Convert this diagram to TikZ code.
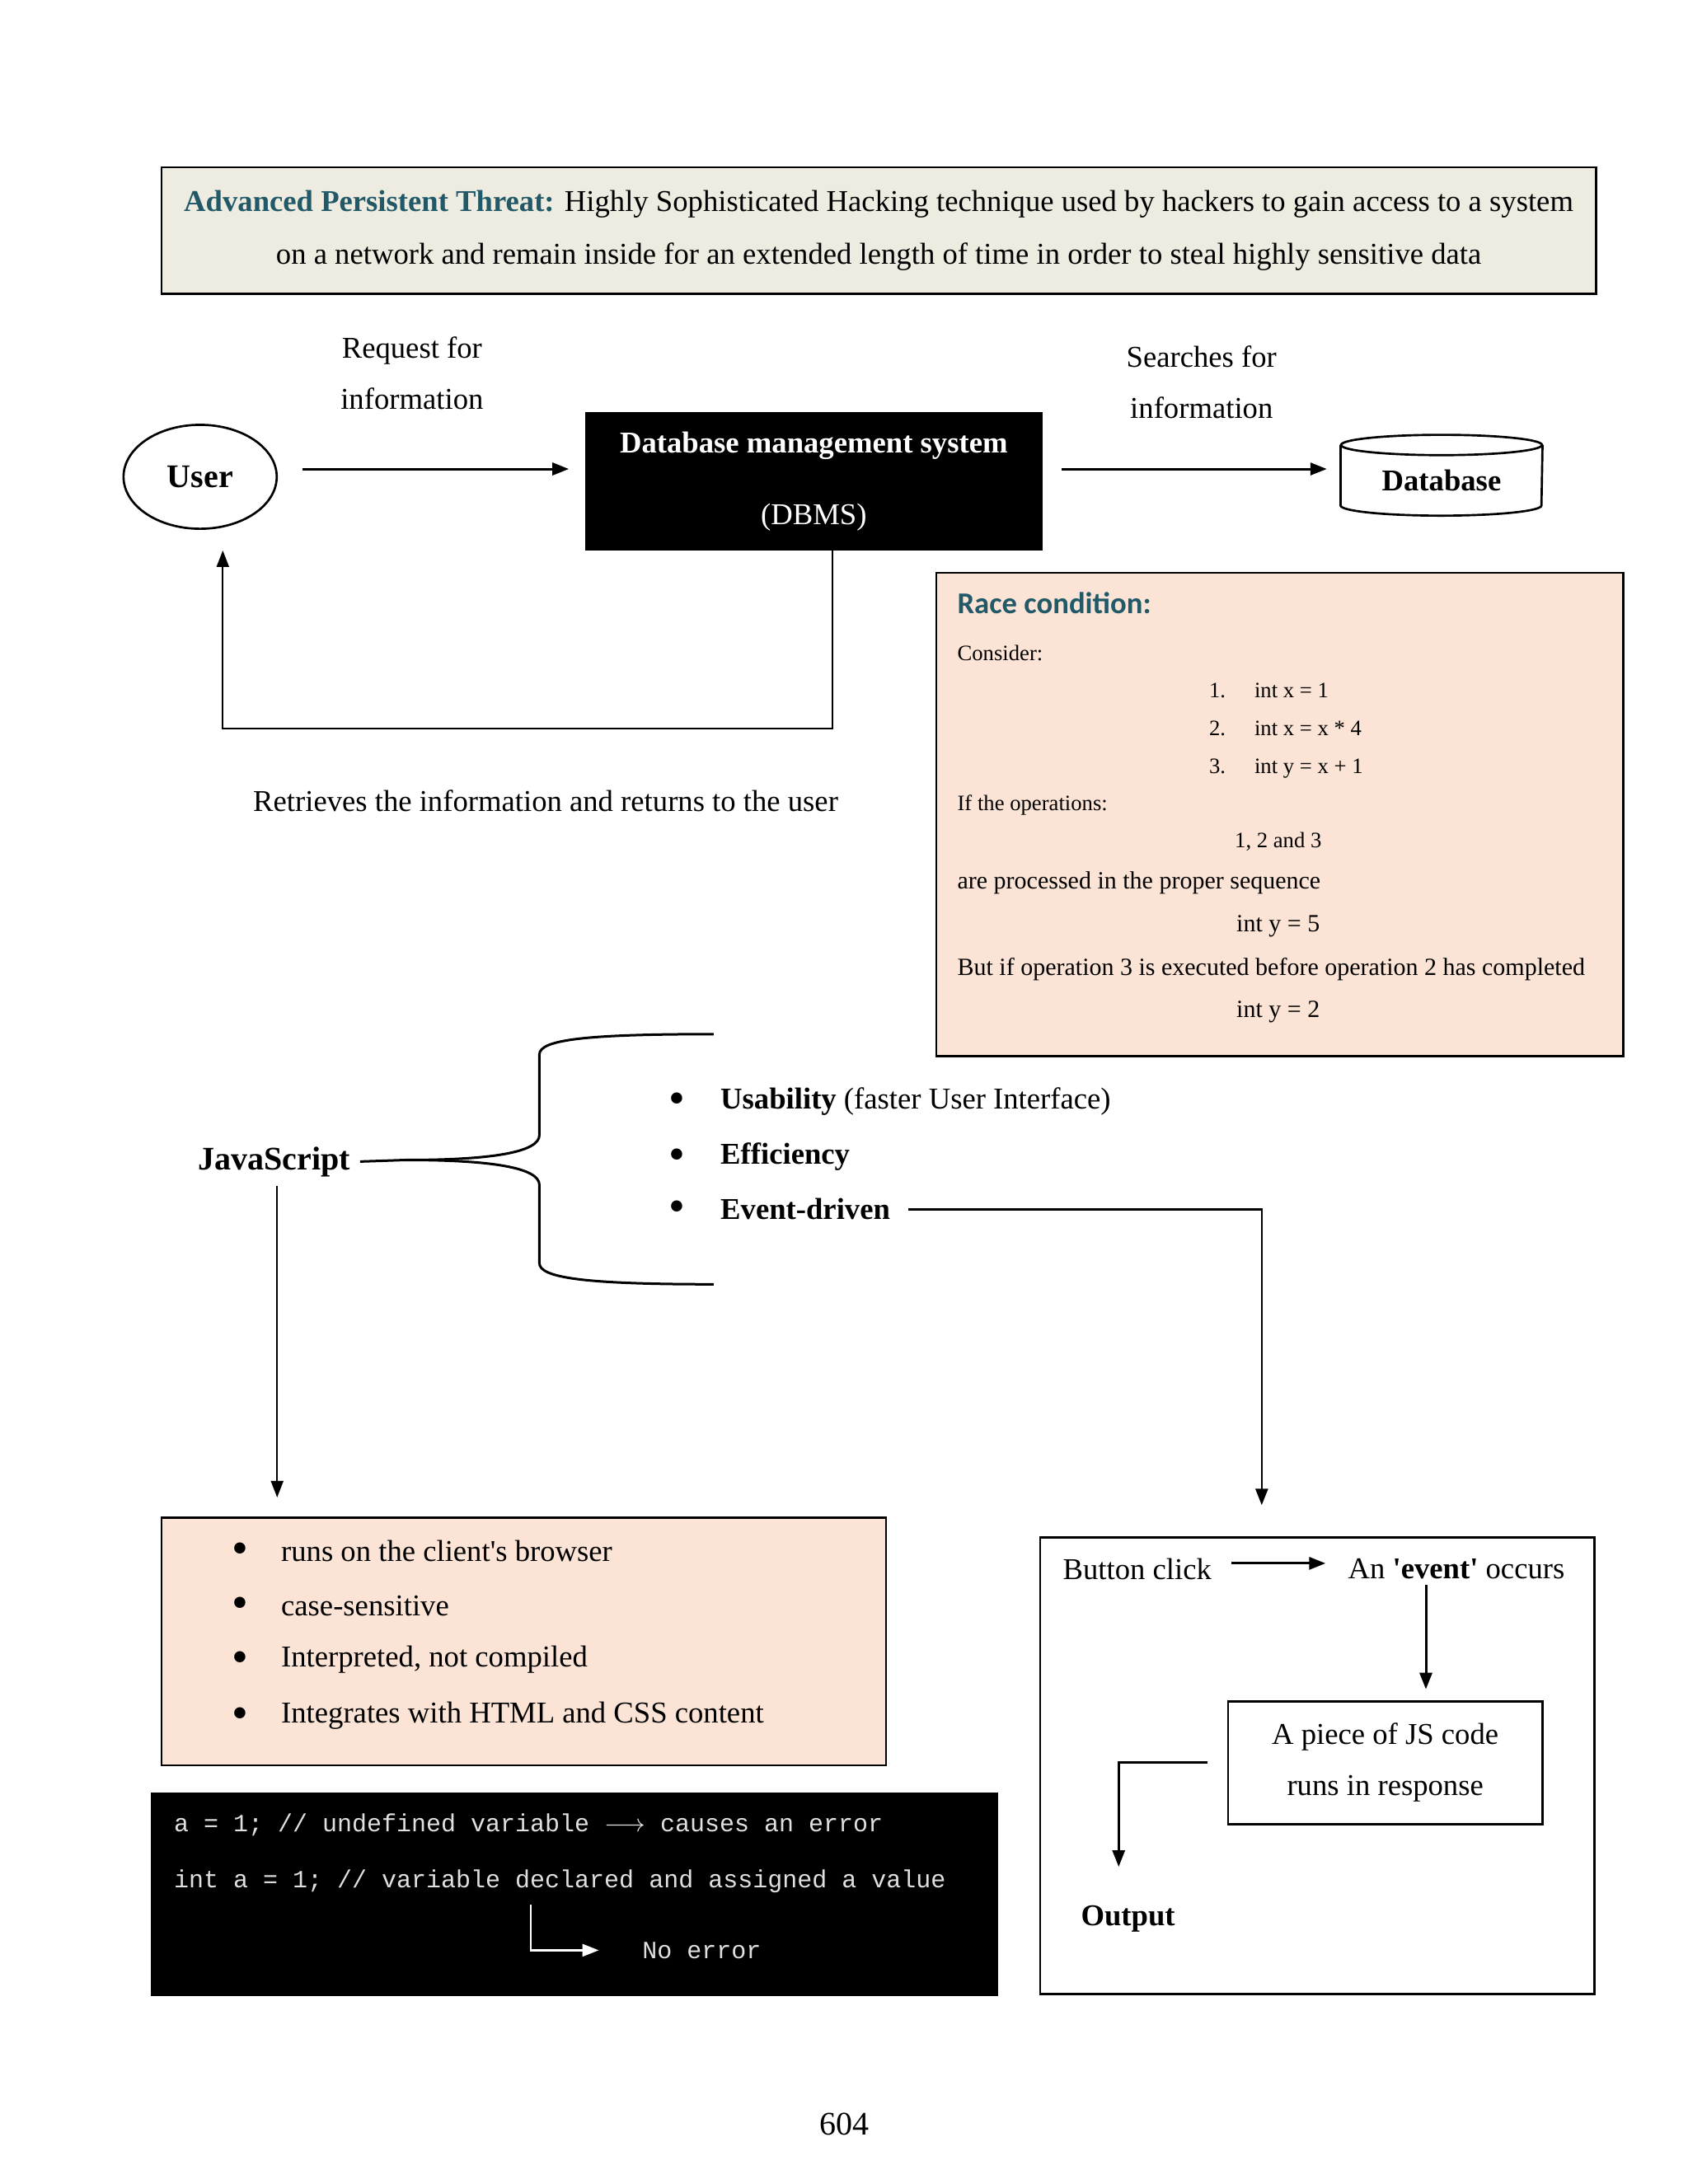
\documentclass[tikz,border=0pt]{standalone}
\usepackage{fontspec}
\setmainfont{Liberation Serif}
\setmonofont{Liberation Mono}
\newfontfamily\calibrifont{Carlito}
\usepackage{tikz}
\usetikzlibrary{arrows.meta, positioning, shapes.geometric}
\usepackage{xcolor}
\definecolor{headteal}{HTML}{215968}
\definecolor{aptfill}{HTML}{EEECE1}
\definecolor{peach}{HTML}{FBE4D5}

\begin{document}
\begin{tikzpicture}[
  every node/.style={font=\fontsize{11}{13}\selectfont},
  lbl/.style={inner sep=0pt},
  small/.style={lbl, font=\fontsize{8}{10}\selectfont},
  mid/.style={lbl, font=\fontsize{9}{11}\selectfont},
  bigbold/.style={font=\bfseries\fontsize{12}{14}\selectfont},
  dot/.style={inner sep=0pt, font=\fontsize{17}{17}\selectfont},
  aptbox/.style={draw, line width=0.8pt, fill=aptfill, align=center},
  peachbox/.style={draw, line width=0.7pt, fill=peach},
  blackbox/.style={draw=black, fill=black, text=white, align=center},
  plainbox/.style={draw, line width=0.8pt, fill=white},
  racetitle/.style={lbl, text=headteal, font=\calibrifont\bfseries\fontsize{11}{13}\selectfont},
  codetxt/.style={lbl, text=white!88!black, font=\ttfamily\fontsize{9}{11}\selectfont},
  arr/.style={-{Triangle[length=6pt, width=4.5pt]}, line width=0.9pt},
  thinarr/.style={-{Triangle[length=6pt, width=4.5pt]}, line width=0.6pt},
  warr/.style={arr, white},
  brace/.style={line width=0.9pt},
  cyl/.style={line width=0.8pt, fill=white}
]
  \useasboundingbox[fill=white] (0,0) rectangle (21.59,27.94);

  % ---- APT definition ----
  \node[aptbox, minimum width=18.35cm, minimum height=1.62cm] (apt) at (11.24,24.99)
    {\textcolor{headteal}{\textbf{Advanced Persistent Threat:}} Highly Sophisticated Hacking technique used by hackers to gain access to a system\\[6.2pt]
     on a network and remain inside for an extended length of time in order to steal highly sensitive data};

  % ---- user / DBMS / database ----
  \node[ellipse, draw, line width=0.8pt, minimum width=1.96cm, minimum height=1.33cm, bigbold] (user) at (2.56,21.84) {User};
  \node[blackbox, minimum width=5.83cm, minimum height=1.76cm] (dbms) at (10.41,21.78)
    {{\bfseries Database management system}\\[13pt] (DBMS)};
  \node[minimum width=2.57cm, minimum height=1.02cm] (db) at (18.44,21.86) {};
  \draw[cyl] ([yshift=-0.13cm]db.north west) -- ([yshift=0.13cm]db.south west)
    arc[start angle=180, end angle=360, x radius=1.285cm, y radius=0.13cm]
    -- ([yshift=-0.13cm]db.north east);
  \draw[cyl] ([yshift=-0.13cm]db.north) ellipse [x radius=1.285cm, y radius=0.13cm];
  \node[font=\bfseries\fontsize{11}{13}\selectfont] (dbtxt) at (18.44,21.79) {Database};

  \node[lbl, align=center] (req) at (5.27,23.17) {Request for\\[5.6pt] information};
  \node[lbl, align=center] (srch) at (15.37,23.05) {Searches for\\[5.6pt] information};

  \draw[arr, shorten <=9pt, shorten >=6pt] ([yshift=0.1cm]user.east) -- ([yshift=0.16cm]dbms.west);
  \draw[arr, shorten <=7pt, shorten >=5pt] ([yshift=0.16cm]dbms.east) -- ([yshift=0.08cm]db.west);

  % ---- return path ----
  \coordinate (retR) at (10.65,18.62);
  \coordinate (retL) at (2.85,18.62);
  \draw[thinarr, shorten >=7.5pt] (dbms.south -| retR) -- (retR) -- (retL) -- (retL |- user.south);
  \node[lbl] (ret) at (6.98,17.69) {Retrieves the information and returns to the user};

  % ---- race condition ----
  \node[peachbox, minimum width=8.79cm, minimum height=6.18cm] (race) at (16.37,17.52) {};
  \node[racetitle, anchor=west] (racett) at (12.24,20.22) {Race condition:};
  \node[small, anchor=west] (consider) at (12.24,19.59) {Consider:};
  \node[small, anchor=base west] (num1) at (15.46,19.02) {1.};
  \node[small, anchor=base west] (op1)  at (16.04,19.02) {int x = 1};
  \node[small, anchor=base west] (num2) at (15.46,18.53) {2.};
  \node[small, anchor=base west] (op2)  at (16.04,18.53) {int x = x * 4};
  \node[small, anchor=base west] (num3) at (15.46,18.05) {3.};
  \node[small, anchor=base west] (op3)  at (16.04,18.05) {int y = x + 1};
  \node[small, anchor=west] (ifops) at (12.24,17.64) {If the operations:};
  \node[small] (order) at (16.35,17.17) {1, 2 and 3};
  \node[mid, anchor=west] (proper) at (12.24,16.65) {are processed in the proper sequence};
  \node[mid] (yfive) at (16.35,16.09) {int y = 5};
  \node[mid, anchor=west] (butif) at (12.24,15.54) {But if operation 3 is executed before operation 2 has completed};
  \node[mid] (ytwo) at (16.35,14.99) {int y = 2};

  % ---- JavaScript ----
  \node[bigbold] (js) at (3.51,13.08) {JavaScript};
  \coordinate (brtip) at (5.19,13.10);
  \draw[brace] (js.east) -- (brtip) .. controls (6.3,13.10) and (6.90,13.20) .. (6.90,13.42)
    -- (6.90,14.45) .. controls (6.90,14.64) and (7.5,14.71) .. (9.13,14.71);
  \draw[brace] (brtip) .. controls (6.3,13.10) and (6.90,13.00) .. (6.90,12.78)
    -- (6.90,11.78) .. controls (6.90,11.59) and (7.5,11.51) .. (9.13,11.51);

  \node[dot] (dot1) at (8.66,13.82) {\textbullet};
  \node[lbl, anchor=west] (usab) at (9.21,13.85) {\textbf{Usability} (faster User Interface)};
  \node[dot] (dot2) at (8.66,13.11) {\textbullet};
  \node[lbl, anchor=west] (effic) at (9.21,13.14) {\textbf{Efficiency}};
  \node[dot] (dot3) at (8.66,12.44) {\textbullet};
  \node[lbl, anchor=west] (evd) at (9.21,12.47) {\textbf{Event-driven}};

  % ---- features box ----
  \node[peachbox, minimum width=9.27cm, minimum height=3.17cm] (feat) at (6.70,6.94) {};
  \node[dot] (fdot1) at (3.07,8.07) {\textbullet};
  \node[lbl, anchor=west] (f1) at (3.59,8.10) {runs on the client\textquotesingle s browser};
  \node[dot] (fdot2) at (3.07,7.37) {\textbullet};
  \node[lbl, anchor=west] (f2) at (3.59,7.40) {case-sensitive};
  \node[dot] (fdot3) at (3.07,6.68) {\textbullet};
  \node[lbl, anchor=west] (f3) at (3.59,6.71) {Interpreted, not compiled};
  \node[dot] (fdot4) at (3.07,5.96) {\textbullet};
  \node[lbl, anchor=west] (f4) at (3.59,5.99) {Integrates with HTML and CSS content};

  \draw[thinarr, shorten >=7pt] ([xshift=1pt]js.south) -- ([xshift=1pt]js.south |- feat.north);

  % ---- code box ----
  \node[blackbox, minimum width=10.82cm, minimum height=2.59cm] (code) at (7.35,3.71) {};
  \node[codetxt, anchor=west] (c1) at (2.22,4.59) {a = 1; // undefined variable $\longrightarrow$ causes an error};
  \node[codetxt, anchor=west] (c2) at (2.22,3.87) {int a = 1; // variable declared and assigned a value};
  \node[codetxt, anchor=west] (noerr) at (8.21,2.99) {No error};
  \coordinate (elb) at (6.79,3.57);
  \draw[warr, line width=0.8pt, shorten >=0.55cm] (elb) |- (noerr.west);

  % ---- event box ----
  \node[plainbox, minimum width=7.09cm, minimum height=5.84cm] (evbox) at (16.85,5.35) {};
  \node[lbl, anchor=west] (click) at (13.59,7.87) {Button click};
  \node[lbl] (event) at (18.63,7.87) {An \textbf{\textquotesingle event\textquotesingle} occurs};
  \node[plainbox, minimum width=4.02cm, minimum height=1.57cm, align=center] (jsc) at (17.72,5.39)
    {A piece of JS code\\[5.6pt] runs in response};
  \node[lbl, font=\bfseries\fontsize{11}{13}\selectfont] (out) at (14.43,3.39) {Output};

  \coordinate (evcorner) at (16.14,12.47);
  \draw[arr, line width=0.8pt, shorten <=6.5pt, shorten >=0.4cm] (evd.east) -- (evcorner) -- (evcorner |- evbox.north);

  \draw[arr, shorten <=7pt, shorten >=8pt] ([yshift=0.07cm]click.east) -- ([yshift=0.07cm]event.west);
  \coordinate (evdown) at (18.24,7.87);
  \draw[arr, shorten <=2pt, shorten >=4pt] (event.south -| evdown) -- (jsc.north -| evdown);
  \coordinate (outcorner) at (14.31,5.39);
  \draw[arr, shorten <=7pt, shorten >=14pt] (jsc.west) -- (outcorner) -- (outcorner |- out.north);

  % ---- page number ----
  \node[font=\fontsize{12}{14}\selectfont] (page) at (10.80,0.77) {604};
\end{tikzpicture}
\end{document}
